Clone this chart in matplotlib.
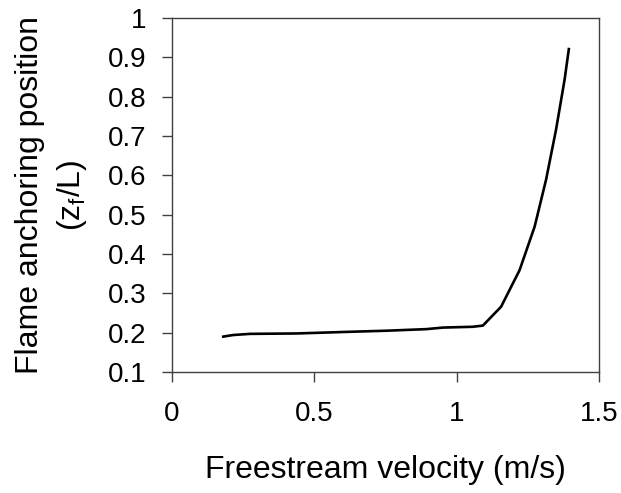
import matplotlib
matplotlib.use('Agg')
import matplotlib.pyplot as plt
from matplotlib.ticker import FormatStrFormatter

velocity: list[float] = [0.18, 0.214, 0.274, 0.437, 0.612, 0.753, 0.893, 0.952, 1.056, 1.092,
                         1.156, 1.221, 1.274, 1.314, 1.349, 1.379, 1.394]
anchoring: list[float] = [0.19, 0.194, 0.197, 0.198, 0.202, 0.205, 0.209, 0.213, 0.215, 0.218,
                          0.266, 0.359, 0.470, 0.589, 0.716, 0.843, 0.921]
x_ticks: list[float] = [0, 0.5, 1, 1.5]
y_ticks: list[float] = [0.1, 0.2, 0.3, 0.4, 0.5, 0.6, 0.7, 0.8, 0.9, 1]


def generate_plot() -> None:
    plt.rcParams['font.family'] = ['Liberation Sans', 'DejaVu Sans']
    fig = plt.figure(figsize=(6.21, 4.93), dpi=100)
    ax = fig.add_axes([0.277, 0.2454, 0.6876, 0.7181])

    ax.plot(velocity, anchoring, color='black', linewidth=1.9)

    ax.set_xlim(0, 1.5)
    ax.set_ylim(0.1, 1)
    ax.set_xticks(x_ticks)
    ax.set_yticks(y_ticks)
    ax.xaxis.set_major_formatter(FormatStrFormatter('%g'))
    ax.yaxis.set_major_formatter(FormatStrFormatter('%g'))

    for spine in ax.spines.values():
        spine.set_color('#404040')
        spine.set_linewidth(1.0)
    ax.tick_params(axis='both', direction='out', length=7.2, width=1.0, color='#404040',
                   labelsize=20)
    ax.tick_params(axis='x', pad=14)
    ax.tick_params(axis='y', pad=11)

    ax.set_xlabel('Freestream velocity (m/s)', fontsize=23, labelpad=20)
    ax.set_ylabel('Flame anchoring position\n($\\mathregular{z_f}$/L)', fontsize=23,
                  labelpad=14, linespacing=1.4)

    fig.savefig('out.png', dpi=100)


if __name__ == '__main__':
    generate_plot()
